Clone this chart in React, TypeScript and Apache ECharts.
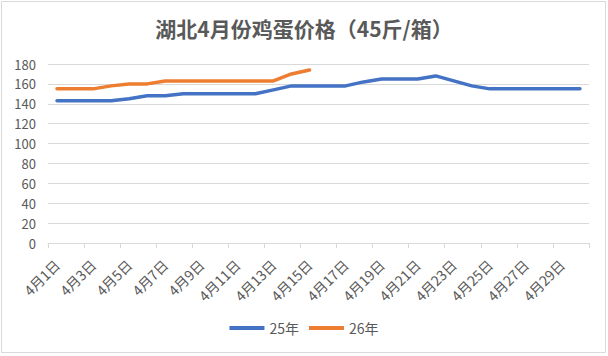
import React, { useEffect, useRef } from "react";
import * as echarts from "echarts";

const categories: string[] = Array.from({ length: 30 }, (_, i) => `4月${i + 1}日`);

const series25: number[] = [
  143, 143, 143, 143, 145, 148, 148, 150, 150, 150,
  150, 150, 154, 158, 158, 158, 158, 162, 165, 165,
  165, 168, 163, 158, 155, 155, 155, 155, 155, 155,
];

const series26: (number | null)[] = [
  155, 155, 155, 158, 160, 160, 163, 163, 163, 163,
  163, 163, 163, 170, 174,
];

const yTicks = { min: 0, max: 180, interval: 20 };

const FONT = "'Noto Sans CJK SC', 'Noto Sans', sans-serif";

export default function App() {
  const ref = useRef<HTMLDivElement>(null);
  useEffect(() => {
    if (!ref.current) return;
    const chart = echarts.init(ref.current, undefined, { renderer: "svg" });
    chart.setOption({
      animation: false,
      backgroundColor: "#ffffff",
      textStyle: { fontFamily: FONT },
      title: {
        text: "湖北4月份鸡蛋价格（45斤/箱）",
        left: "center",
        top: 12,
        textStyle: { fontSize: 21, fontWeight: "bold", color: "#595959", fontFamily: FONT },
      },
      graphic: [
        {
          type: "rect",
          shape: { x: 1.5, y: 1.5, width: 604, height: 351 },
          style: { fill: "none", stroke: "#d9d9d9", lineWidth: 1 },
          silent: true,
        },
      ],
      legend: {
        bottom: 16,
        left: "center",
        icon: "rect",
        itemWidth: 35,
        itemHeight: 4,
        itemGap: 10,
        textStyle: { fontSize: 14, color: "#595959", fontFamily: FONT },
        data: ["25年", "26年"],
      },
      grid: { left: 48, right: 19, top: 64, bottom: 113, containLabel: false },
      xAxis: {
        type: "category",
        data: categories,
        boundaryGap: true,
        axisLine: { lineStyle: { color: "#d9d9d9", width: 1 } },
        axisTick: { show: true, interval: 1, length: 5, lineStyle: { color: "#d9d9d9" } },
        axisLabel: {
          interval: 1,
          rotate: 45,
          fontSize: 14,
          color: "#595959",
          margin: 19,
          fontFamily: FONT,
        },
      },
      yAxis: {
        type: "value",
        min: yTicks.min,
        max: yTicks.max,
        interval: yTicks.interval,
        axisLine: { show: false },
        axisTick: { show: false },
        axisLabel: { fontSize: 13, color: "#595959", margin: 12, fontFamily: FONT },
        splitLine: { lineStyle: { color: "#d9d9d9", width: 1 } },
      },
      series: [
        {
          name: "25年",
          type: "line",
          data: series25,
          showSymbol: false,
          symbol: "none",
          lineStyle: { color: "#4472C4", width: 3.5, cap: "round" },
          itemStyle: { color: "#4472C4" },
        },
        {
          name: "26年",
          type: "line",
          data: series26,
          showSymbol: false,
          symbol: "none",
          lineStyle: { color: "#ED7D31", width: 3.5, cap: "round" },
          itemStyle: { color: "#ED7D31" },
        },
      ],
    });
    return () => chart.dispose();
  }, []);
  return (
    <div
      ref={ref}
      style={{ position: "fixed", left: 0, top: 0, width: 608, height: 356 }}
    />
  );
}
